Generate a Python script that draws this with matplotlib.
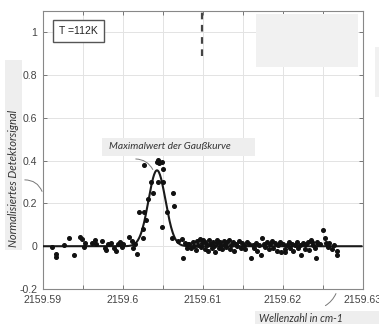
import matplotlib
matplotlib.use("Agg")
import matplotlib.pyplot as plt
import numpy as np
from matplotlib.patches import Rectangle, FancyArrowPatch
from matplotlib.ticker import MultipleLocator, FuncFormatter

# Messpunkte (Wellenzahl in cm-1, normalisiertes Signal)
wavenumber = [
    2159.59116, 2159.59166, 2159.59166, 2159.5926, 2159.59325, 2159.59384, 2159.59466, 2159.59491,
    2159.59521, 2159.59509, 2159.59616, 2159.59646, 2159.59666, 2159.59741, 2159.59771, 2159.59791,
    2159.59813, 2159.59854, 2159.59884, 2159.59909, 2159.59938, 2159.59963, 2159.59966, 2159.59991,
    2159.6000, 2159.60079, 2159.60108, 2159.60129, 2159.6015, 2159.60171,
    2159.6020, 2159.60246, 2159.6025, 2159.60263, 2159.60263, 2159.60288, 2159.60313, 2159.60346,
    2159.60371, 2159.60429, 2159.60441, 2159.60441, 2159.60454, 2159.60484, 2159.60484, 2159.60504,
    2159.60504, 2159.60546, 2159.60609, 2159.60629, 2159.60638, 2159.60691, 2159.60734, 2159.60754,
    2159.60775, 2159.60796, 2159.60813,
    2159.6083, 2159.6085, 2159.6087, 2159.6089, 2159.6091, 2159.6092, 2159.6094, 2159.6096,
    2159.6097, 2159.6099, 2159.6100, 2159.6102, 2159.6103, 2159.6105, 2159.6106, 2159.6108,
    2159.6109, 2159.6111, 2159.6112, 2159.6114, 2159.6115, 2159.6117, 2159.6118, 2159.6120,
    2159.6121, 2159.6123, 2159.6124, 2159.6126, 2159.6127, 2159.6129, 2159.6130, 2159.6132,
    2159.6134, 2159.6135, 2159.6137, 2159.6139, 2159.6141, 2159.6143, 2159.6145, 2159.6147,
    2159.6149, 2159.6151, 2159.6153, 2159.6155, 2159.6157, 2159.6160, 2159.6162, 2159.6164,
    2159.6166, 2159.6168, 2159.6170, 2159.6172, 2159.6174, 2159.6176, 2159.6178, 2159.6180,
    2159.6182, 2159.6184, 2159.6186, 2159.6188, 2159.6190, 2159.6192, 2159.6194, 2159.6196,
    2159.6198, 2159.6200, 2159.6202, 2159.6203, 2159.6205, 2159.6207, 2159.6209, 2159.6211,
    2159.6213, 2159.6215, 2159.6217, 2159.6219, 2159.6221, 2159.6223, 2159.6225, 2159.6227,
    2159.6229, 2159.6231, 2159.6233, 2159.6235, 2159.6236, 2159.6238, 2159.6240, 2159.6241,
    2159.6243, 2159.6244, 2159.6246, 2159.6250, 2159.6252, 2159.6254, 2159.6256, 2159.6258,
    2159.6261, 2159.6264, 2159.6267, 2159.6268,
]
signal = [
    -0.003, -0.037, -0.051, 0.005, 0.037, -0.040, 0.043, 0.033,
    0.017, -0.003, 0.017, 0.028, 0.012, 0.025, -0.009, -0.019,
    0.009, 0.017, -0.009, -0.022, 0.009, 0.017, 0.022, -0.003,
    0.009, 0.045, 0.025, -0.007, 0.009, -0.037,
    0.160, 0.040, 0.080, 0.160, 0.378, 0.125, 0.220, 0.300,
    0.250, 0.395, 0.405, 0.300, 0.390, 0.395, 0.090, 0.360,
    0.300, 0.160, 0.040, 0.250, 0.190, 0.025, 0.033, -0.053,
    0.017, -0.007, 0.010,
    0.012, -0.010, 0.020, 0.000, -0.018, 0.025, 0.008, 0.035,
    -0.005, 0.015, 0.028, -0.012, 0.018, 0.005, -0.020, 0.030,
    0.010, -0.008, 0.022, 0.000, -0.025, 0.015, 0.030, -0.010,
    0.020, 0.005, -0.015, 0.025, 0.010, -0.005, 0.018, 0.030,
    -0.012, 0.008, 0.020, -0.020, 0.012, 0.000, 0.025, -0.008,
    0.015, 0.005, -0.015, 0.020, 0.010, -0.053, 0.005, -0.010,
    0.015, -0.020, 0.008, -0.040, 0.037, 0.012, -0.005, 0.020,
    -0.015, 0.010, 0.025, -0.010, 0.015, -0.020, 0.005, 0.022,
    -0.025, 0.010, -0.015, -0.029, 0.005, 0.018, -0.010, 0.012,
    -0.020, 0.008, 0.020, -0.008, 0.005, -0.042, 0.015, -0.012,
    0.010, 0.022, -0.018, 0.029, 0.020, 0.005, -0.010, -0.053,
    0.022, 0.009, 0.012, 0.076, 0.040, 0.015, -0.005, 0.014,
    -0.011, 0.008, -0.022, -0.040,
]

# Gauss-Fit Parameter
peak_center = 2159.60425
peak_height = 0.355
peak_sigma = 0.00106

x_ticks = [2159.59, 2159.60, 2159.61, 2159.62, 2159.63]
y_ticks = [-0.2, 0, 0.2, 0.4, 0.6, 0.8, 1]

W, H = 379, 324
fig = plt.figure(figsize=(W / 100, H / 100), dpi=100)
ax = fig.add_axes([43 / W, 35 / H, 320 / W, 278 / H])

xfit = np.linspace(x_ticks[0], x_ticks[-1] - 0.0002, 600)
yfit = peak_height * np.exp(-0.5 * ((xfit - peak_center) / peak_sigma) ** 2)
ax.plot(xfit, yfit, color="#1a1a1a", lw=1.5, zorder=3)
ax.plot(wavenumber, signal, "o", ms=2.6, color="#111111", zorder=4)

# gestrichelte Linie oben
ax.plot([2159.6099, 2159.6099], [0.89, 1.1], color="#444444", lw=1.6,
        dashes=(3, 2.5), zorder=3)

ax.set_xlim(x_ticks[0], x_ticks[-1])
ax.set_ylim(-0.2, 1.1)
ax.xaxis.set_major_locator(MultipleLocator(0.005))
ax.set_yticks(y_ticks)


def fmt_x(v, pos):
    if abs(round(v * 100) - v * 100) > 1e-3:
        return ""
    return ("%.2f" % v).rstrip("0")


ax.xaxis.set_major_formatter(FuncFormatter(fmt_x))
ax.yaxis.set_major_formatter(FuncFormatter(lambda v, p: "%g" % round(v, 2)))
ax.grid(True, color="#e3e3e3", lw=0.7)
ax.set_axisbelow(True)
ax.tick_params(direction="in", length=3, width=0.7, colors="#777777",
               labelcolor="#444444", labelsize=7.6, top=True, right=True)
ax.tick_params(axis="x", pad=4.5)
ax.tick_params(axis="y", pad=4)
for lab in ax.get_xticklabels() + ax.get_yticklabels():
    lab.set_family("Liberation Sans")
for s in ax.spines.values():
    s.set_color("#888888")
    s.set_linewidth(0.8)

ax.text(2159.5944, 1.007, "T =112K", fontsize=7.5, color="#222222",
        ha="center", va="center", family="Liberation Sans",
        bbox=dict(boxstyle="square,pad=0.6", fc="white", ec="#555555", lw=1))


def px_rect(x0, y0, x1, y1, color):
    fig.add_artist(Rectangle((x0 / W, 1 - y1 / H), (x1 - x0) / W, (y1 - y0) / H,
                             transform=fig.transFigure, fc=color, ec="none", zorder=0.5))


# graue Flaechen
px_rect(256, 14, 358, 67, "#f1f1f1")
px_rect(375, 47, 379, 97, "#f1f1f1")
px_rect(5, 60, 22, 250, "#eeeeee")
px_rect(102, 138, 255, 156, "#eeeeee")
px_rect(255, 311, 379, 324, "#eeeeee")

lab_font = dict(family="Lato", style="italic", color="#333333", zorder=2)
fig.text(13.5 / W, 1 - 178 / H, "Normalisiertes Detektorsignal", rotation=90,
         ha="center", va="center", fontsize=8, **lab_font)
fig.text(301 / W, 1 - 318 / H, "Wellenzahl in cm-1", ha="center", va="center",
         fontsize=7.6, **lab_font)
fig.text(170 / W, 1 - 147 / H, "Maximalwert der Gaußkurve", ha="center", va="center",
         fontsize=7.4, **lab_font)

# Hinweislinien
for (a, b, rad) in [((133, 159), (154, 172), -0.35),
                    ((22, 180), (43, 194), -0.4),
                    ((323, 307), (337, 291), 0.2)]:
    fig.add_artist(FancyArrowPatch(
        (a[0] / W, 1 - a[1] / H), (b[0] / W, 1 - b[1] / H), transform=fig.transFigure,
        arrowstyle="-", connectionstyle="arc3,rad=%g" % rad, color="#777777", lw=0.7))

fig.savefig("out.png", dpi=100)
